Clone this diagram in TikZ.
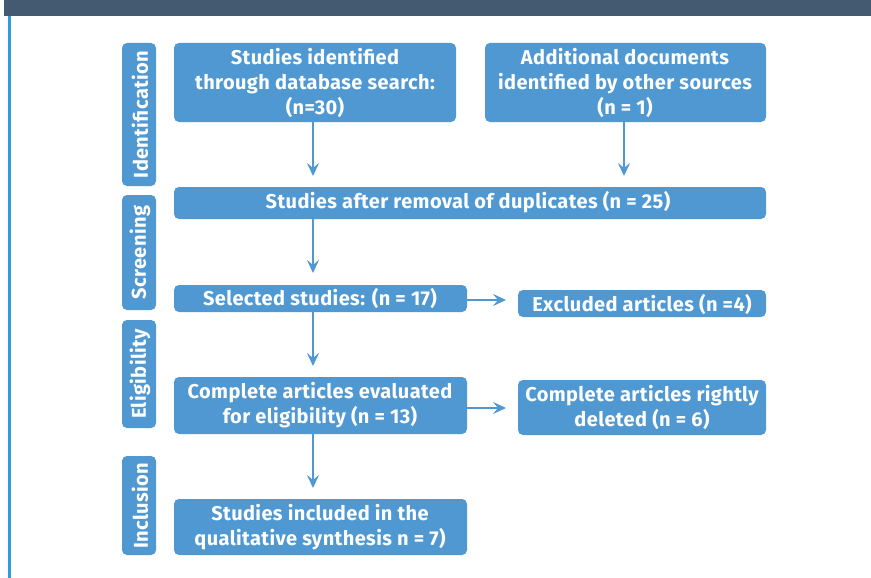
\documentclass[tikz,border=0pt]{standalone}
\usepackage{fontspec}
\setmainfont[LetterSpace=2]{Fira Sans}
\usetikzlibrary{arrows.meta}
\definecolor{boxblue}{HTML}{4F98D2}
\definecolor{barcol}{HTML}{435A70}
\definecolor{linecol}{HTML}{3399DD}
\tikzset{
  blk/.style={fill=boxblue, rounded corners=5pt, inner sep=0pt},
  txt/.style={text=white, font=\fontsize{20}{25}\selectfont\bfseries, align=center, inner sep=0pt},
  arr/.style={draw=boxblue, line width=2pt, -{Stealth[length=13pt,width=12pt,inset=5pt]}},
}
\begin{document}
\begin{tikzpicture}[x=1pt,y=-1pt]
\useasboundingbox (0,0) rectangle (871,578);
\fill[white] (0,0) rectangle (871,578);
% top bar and left line
\fill[barcol] (4,0) rectangle (871,16);
\fill[linecol] (8,16) rectangle (11,578);
% side labels
\fill[blk] (122,43) rectangle (156,186);
\node[txt, rotate=90] (lid) at (140,114.5) {Identification};
\fill[blk] (122,195) rectangle (156,310);
\node[txt, rotate=90] (lsc) at (140,252.5) {Screening};
\fill[blk] (122,320) rectangle (156,428);
\node[txt, rotate=90] (lel) at (140,374) {Eligibility};
\fill[blk] (122,456) rectangle (156,555);
\node[txt, rotate=90] (lin) at (140,505.5) {Inclusion};
% boxes
\fill[blk] (174,43) rectangle (456,122);
\node[txt] (a) at (315,82.5) {Studies identified\\through database search:\\(n=30)};
\coordinate (aB) at (313,122);
\fill[blk] (485,43) rectangle (766,122);
\node[txt] (b) at (625,82.5) {Additional documents\\identified by other sources\\(n = 1)};
\coordinate (bB) at (624,122);
\fill[blk] (174,187) rectangle (766,219);
\node[txt] (c) at (468,202) {Studies after removal of duplicates (n = 25)};
\coordinate (cT1) at (313,176);
\coordinate (cT2) at (624,176);
\coordinate (cB) at (313,219);
\fill[blk] (174,285) rectangle (467,312);
\node[txt] (d) at (320,298) {Selected studies: (n = 17)};
\coordinate (dT) at (313,273);
\coordinate (dB) at (313,312);
\coordinate (dR) at (467,300);
\fill[blk] (518,290) rectangle (766,317);
\node[txt] (e) at (642,304) {Excluded articles (n =4)};
\coordinate (eL) at (506,300);
\fill[blk] (174,377) rectangle (467,434);
\node[txt] (f) at (320,405) {Complete articles evaluated\\for eligibility (n = 13)};
\coordinate (fT) at (313,366);
\coordinate (fB) at (313,434);
\coordinate (fR) at (467,408);
\fill[blk] (518,380) rectangle (766,435);
\node[txt] (g) at (642,407) {Complete articles rightly\\deleted (n = 6)};
\coordinate (gL) at (506,408);
\fill[blk] (174,499) rectangle (467,555);
\node[txt] (h) at (320,527) {Studies included in the\\qualitative synthesis n = 7)};
\coordinate (hT) at (313,488);
% arrows
\draw[arr] (aB) -- (cT1);
\draw[arr] (bB) -- (cT2);
\draw[arr] (cB) -- (dT);
\draw[arr] (dR) -- (eL);
\draw[arr] (dB) -- (fT);
\draw[arr] (fR) -- (gL);
\draw[arr] (fB) -- (hT);
\end{tikzpicture}
\end{document}
